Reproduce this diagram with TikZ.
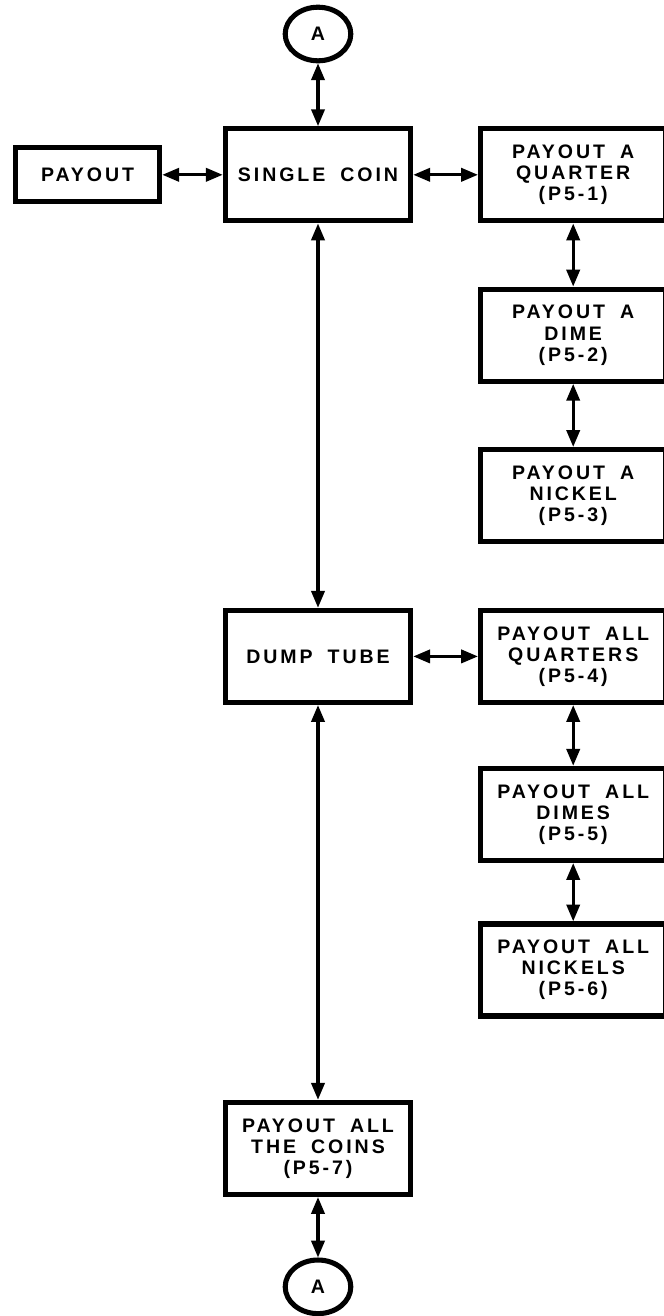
\documentclass[tikz,border=0pt]{standalone}
\usepackage{fontspec}
\newfontfamily\plotfont{Liberation Sans}[LetterSpace=15,WordSpace=1.8]
\usetikzlibrary{arrows.meta,shapes.geometric}
\tikzset{
  blockbox/.style={
    rectangle,
    draw,
    line width=3.8pt,
    minimum width=4.63cm,
    minimum height=2.30cm,
    inner sep=0pt,
    align=center,
    font=\plotfont\bfseries\fontsize{13.9pt}{15pt}\selectfont
  },
  smallbox/.style={
    blockbox,
    minimum width=3.60cm,
    minimum height=1.35cm
  },
  connector/.style={
    ellipse,
    draw,
    line width=3.6pt,
    minimum width=1.64cm,
    minimum height=1.34cm,
    inner sep=0pt,
    font=\plotfont\bfseries\fontsize{13.9pt}{15pt}\selectfont
  },
  linkarc/.style={
    {Triangle[length=4.2mm,width=3.3mm]}-{Triangle[length=4.2mm,width=3.3mm]},
    line width=2.2pt
  }
}
\begin{document}
\begin{tikzpicture}
  \useasboundingbox (0,0) rectangle (16.6,-32.9);
  \clip (0,0) rectangle (16.6,-32.9);

  \node[connector] (topA) at (7.95,-0.85) {A};
  \node[smallbox] (payout) at (2.19,-4.37) {PAYOUT};
  \node[blockbox] (single) at (7.95,-4.37) {SINGLE COIN};
  \node[blockbox] (quarter) at (14.33,-4.37) {PAYOUT A\\QUARTER\\(P5-1)};
  \node[blockbox] (dime) at (14.33,-8.38) {PAYOUT A\\DIME\\(P5-2)};
  \node[blockbox] (nickel) at (14.33,-12.39) {PAYOUT A\\NICKEL\\(P5-3)};

  \node[blockbox] (dump) at (7.95,-16.41) {DUMP TUBE};
  \node[blockbox] (quarters) at (14.33,-16.41) {PAYOUT ALL\\QUARTERS\\(P5-4)};
  \node[blockbox] (dimes) at (14.33,-20.36) {PAYOUT ALL\\DIMES\\(P5-5)};
  \node[blockbox] (nickels) at (14.33,-24.25) {PAYOUT ALL\\NICKELS\\(P5-6)};

  \node[blockbox] (coins) at (7.95,-28.71) {PAYOUT ALL\\THE COINS\\(P5-7)};
  \node[connector] (botA) at (7.95,-32.17) {A};

  % single coin branch
  \draw[linkarc] (topA) -- (single);
  \draw[linkarc] (payout) -- (single);
  \draw[linkarc] (single) -- (quarter);
  \draw[linkarc] (quarter) -- (dime);
  \draw[linkarc] (dime) -- (nickel);

  % dump tube branch
  \draw[linkarc] (single) -- (dump);
  \draw[linkarc] (dump) -- (quarters);
  \draw[linkarc] (quarters) -- (dimes);
  \draw[linkarc] (dimes) -- (nickels);

  \draw[linkarc] (dump) -- (coins);
  \draw[linkarc] (coins) -- (botA);
\end{tikzpicture}
\end{document}
